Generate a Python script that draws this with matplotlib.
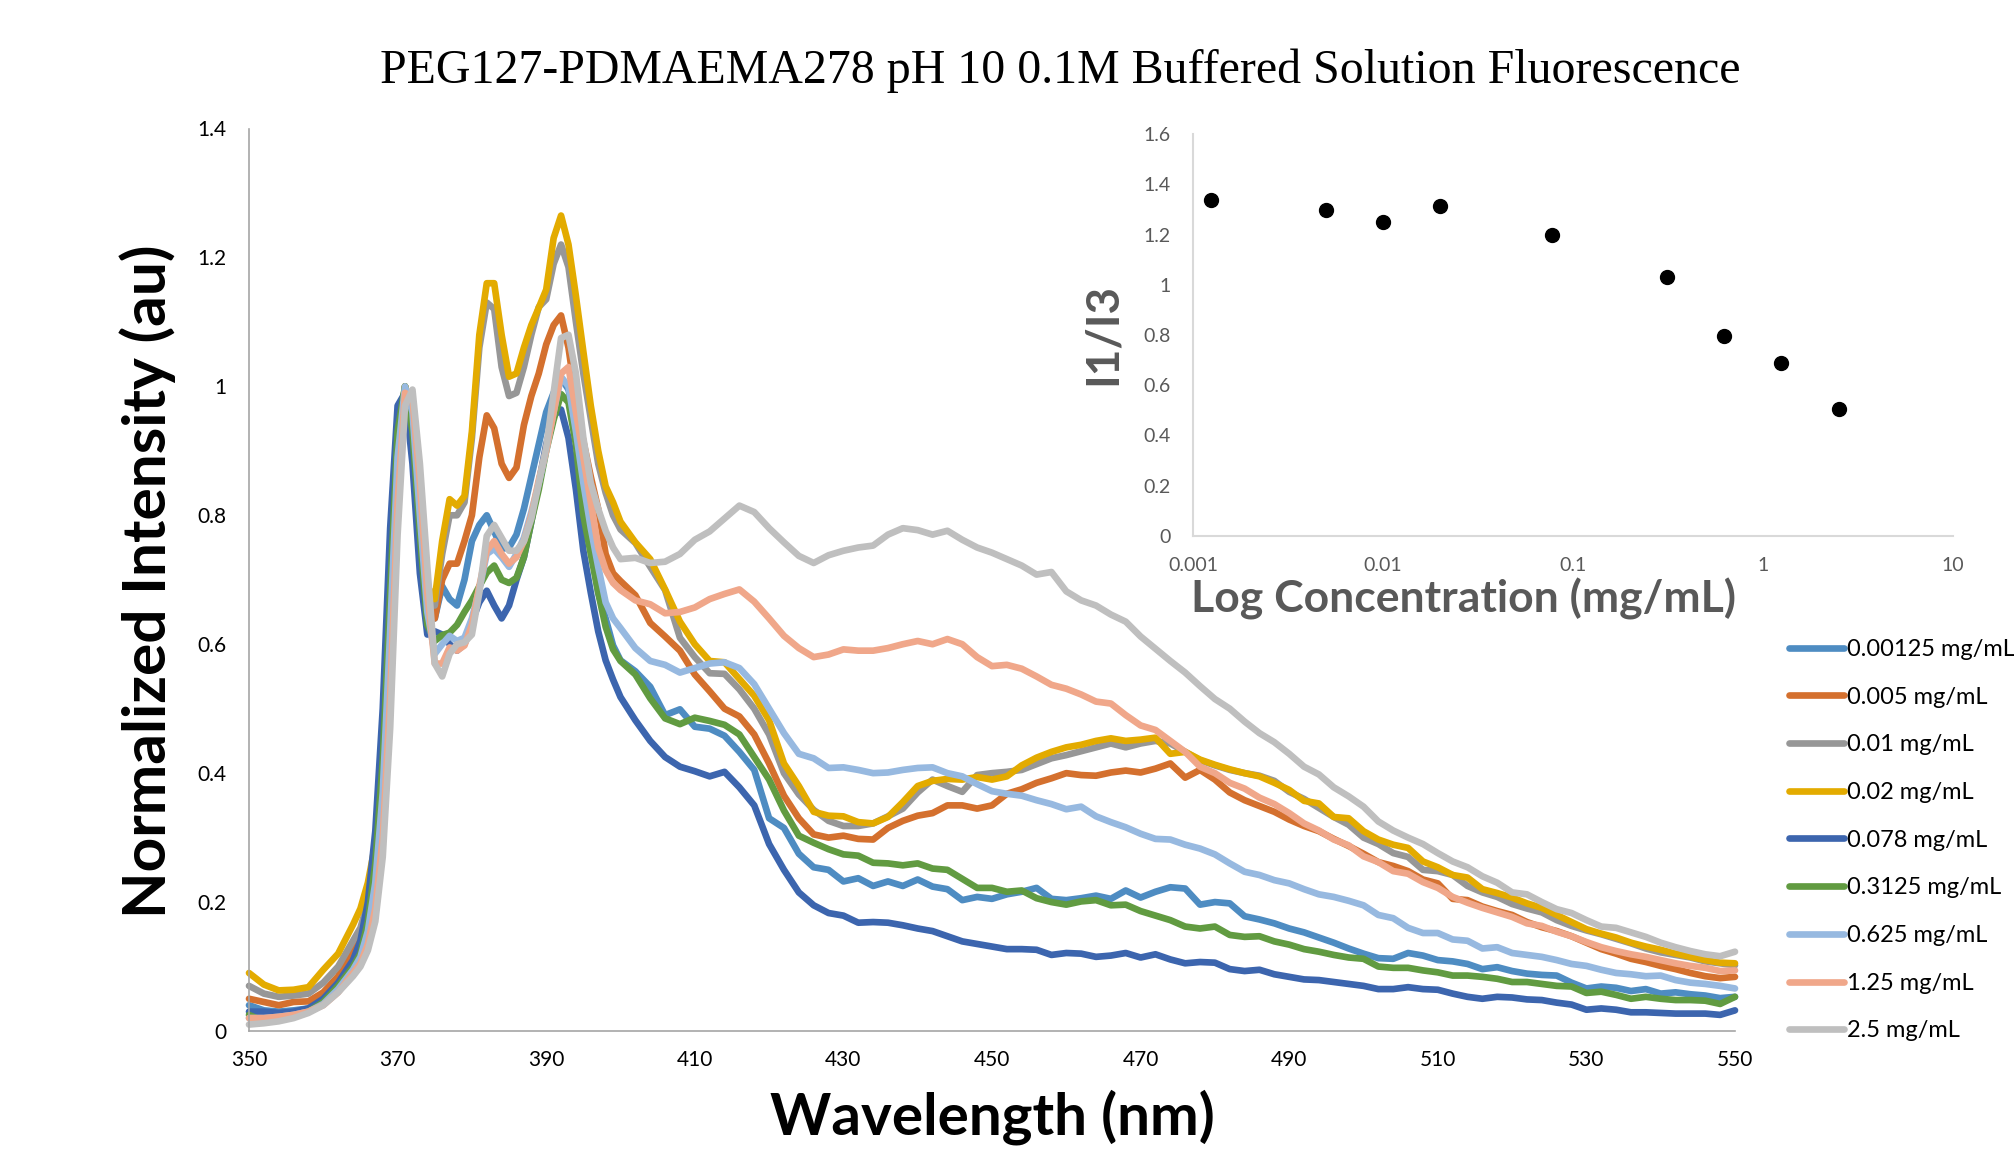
import numpy as np
import matplotlib.pyplot as plt
from matplotlib.ticker import FuncFormatter, FixedLocator

plt.rcParams['font.family'] = ['Lato', 'DejaVu Sans']

# wavelength grid the spectra were read on (nm)
wl = np.concatenate([np.arange(350, 365, 2), np.arange(365, 401, 1),
                     np.arange(402, 551, 2)])

# normalized intensity, one list per concentration (350-364 / 365-400 / 402-550)
i_00125 = [0.040, 0.032, 0.030, 0.032, 0.035, 0.050, 0.075, 0.110,
           0.135, 0.18, 0.26, 0.41, 0.66, 0.91, 1.00, 0.94, 0.79, 0.65, 0.64, 0.69,
           0.67, 0.66, 0.70, 0.76, 0.785, 0.80, 0.775, 0.748, 0.75, 0.77, 0.81,
           0.86, 0.91, 0.96, 0.99, 1.013, 0.995, 0.94, 0.84, 0.75, 0.68, 0.64,
           0.598, 0.575,
           0.558, 0.534, 0.490, 0.499, 0.472, 0.469, 0.458, 0.433, 0.405, 0.330,
           0.315, 0.275, 0.254, 0.250, 0.232, 0.237, 0.225, 0.232, 0.225, 0.235,
           0.224, 0.220, 0.203, 0.208, 0.205, 0.212, 0.216, 0.222, 0.205, 0.203,
           0.206, 0.210, 0.205, 0.218, 0.207, 0.216, 0.223, 0.221, 0.196, 0.200,
           0.198, 0.178, 0.173, 0.167, 0.159, 0.153, 0.145, 0.137, 0.128, 0.120,
           0.113, 0.112, 0.121, 0.117, 0.110, 0.108, 0.104, 0.096, 0.099, 0.093,
           0.089, 0.087, 0.086, 0.075, 0.066, 0.069, 0.067, 0.062, 0.065, 0.058,
           0.060, 0.057, 0.055, 0.051, 0.053]
i_005 = [0.050, 0.045, 0.040, 0.045, 0.046, 0.060, 0.085, 0.125,
         0.15, 0.19, 0.25, 0.38, 0.62, 0.88, 1.00, 0.95, 0.80, 0.66, 0.64, 0.70,
         0.725, 0.725, 0.76, 0.80, 0.89, 0.955, 0.935, 0.88, 0.858, 0.874, 0.94,
         0.985, 1.02, 1.065, 1.095, 1.11, 1.06, 0.98, 0.915, 0.86, 0.81, 0.74,
         0.71, 0.698,
         0.676, 0.633, 0.612, 0.590, 0.553, 0.527, 0.500, 0.488, 0.460, 0.415,
         0.365, 0.330, 0.305, 0.300, 0.303, 0.298, 0.297, 0.315, 0.326, 0.334,
         0.338, 0.350, 0.350, 0.345, 0.350, 0.368, 0.375, 0.385, 0.392, 0.400,
         0.397, 0.396, 0.401, 0.404, 0.401, 0.407, 0.415, 0.393, 0.405, 0.390,
         0.370, 0.358, 0.349, 0.340, 0.328, 0.318, 0.310, 0.298, 0.287, 0.275,
         0.262, 0.256, 0.248, 0.235, 0.229, 0.205, 0.203, 0.193, 0.186, 0.180,
         0.169, 0.161, 0.155, 0.147, 0.137, 0.127, 0.120, 0.112, 0.107, 0.101,
         0.096, 0.090, 0.085, 0.082, 0.084]
i_001 = [0.070, 0.058, 0.053, 0.055, 0.058, 0.075, 0.100, 0.140,
         0.16, 0.20, 0.27, 0.41, 0.65, 0.90, 1.00, 0.96, 0.83, 0.68, 0.66, 0.74,
         0.80, 0.80, 0.82, 0.92, 1.06, 1.13, 1.12, 1.03, 0.985, 0.99, 1.03,
         1.08, 1.123, 1.135, 1.19, 1.22, 1.185, 1.10, 1.02, 0.95, 0.88, 0.835,
         0.80, 0.778,
         0.757, 0.720, 0.684, 0.610, 0.580, 0.555, 0.554, 0.530, 0.500, 0.460,
         0.400, 0.367, 0.343, 0.326, 0.318, 0.318, 0.322, 0.333, 0.345, 0.370,
         0.390, 0.380, 0.371, 0.397, 0.400, 0.402, 0.405, 0.414, 0.423, 0.428,
         0.434, 0.440, 0.446, 0.440, 0.446, 0.450, 0.446, 0.433, 0.420, 0.412,
         0.405, 0.400, 0.396, 0.388, 0.371, 0.360, 0.346, 0.332, 0.320, 0.300,
         0.290, 0.276, 0.270, 0.250, 0.248, 0.242, 0.225, 0.215, 0.208, 0.197,
         0.190, 0.184, 0.172, 0.163, 0.156, 0.150, 0.143, 0.136, 0.128, 0.122,
         0.118, 0.114, 0.108, 0.105, 0.102]
i_002 = [0.090, 0.072, 0.063, 0.064, 0.068, 0.095, 0.120, 0.165,
         0.19, 0.23, 0.29, 0.44, 0.68, 0.92, 1.00, 0.96, 0.84, 0.69, 0.67, 0.76,
         0.825, 0.815, 0.83, 0.93, 1.08, 1.16, 1.16, 1.08, 1.015, 1.02, 1.06,
         1.095, 1.122, 1.15, 1.23, 1.265, 1.22, 1.14, 1.054, 0.97, 0.90, 0.845,
         0.82, 0.79,
         0.758, 0.732, 0.685, 0.635, 0.600, 0.574, 0.572, 0.546, 0.520, 0.482,
         0.415, 0.380, 0.340, 0.334, 0.333, 0.324, 0.322, 0.332, 0.355, 0.380,
         0.388, 0.391, 0.390, 0.394, 0.390, 0.395, 0.412, 0.424, 0.433, 0.440,
         0.444, 0.450, 0.454, 0.450, 0.452, 0.455, 0.430, 0.433, 0.421, 0.413,
         0.406, 0.400, 0.395, 0.385, 0.374, 0.357, 0.353, 0.332, 0.330, 0.310,
         0.297, 0.289, 0.284, 0.263, 0.254, 0.242, 0.238, 0.220, 0.214, 0.207,
         0.198, 0.191, 0.180, 0.169, 0.158, 0.151, 0.145, 0.137, 0.131, 0.126,
         0.120, 0.115, 0.110, 0.106, 0.105]
i_0078 = [0.030, 0.030, 0.028, 0.030, 0.035, 0.050, 0.075, 0.110,
          0.14, 0.20, 0.31, 0.50, 0.78, 0.97, 0.99, 0.88, 0.71, 0.615, 0.62, 0.615,
          0.60, 0.59, 0.60, 0.635, 0.665, 0.683, 0.66, 0.64, 0.66, 0.70, 0.735,
          0.79, 0.85, 0.91, 0.955, 0.964, 0.92, 0.84, 0.745, 0.68, 0.62, 0.575,
          0.545, 0.518,
          0.482, 0.450, 0.425, 0.410, 0.403, 0.395, 0.402, 0.378, 0.350, 0.290,
          0.250, 0.215, 0.195, 0.183, 0.179, 0.168, 0.169, 0.168, 0.164, 0.159,
          0.155, 0.147, 0.139, 0.135, 0.131, 0.127, 0.127, 0.126, 0.118, 0.121,
          0.120, 0.115, 0.117, 0.121, 0.114, 0.119, 0.111, 0.105, 0.107, 0.106,
          0.096, 0.093, 0.095, 0.088, 0.084, 0.080, 0.079, 0.076, 0.073, 0.070,
          0.065, 0.065, 0.068, 0.065, 0.064, 0.058, 0.053, 0.050, 0.053, 0.052,
          0.049, 0.048, 0.044, 0.041, 0.033, 0.035, 0.033, 0.029, 0.029, 0.028,
          0.027, 0.027, 0.027, 0.025, 0.032]
i_03125 = [0.025, 0.015, 0.020, 0.022, 0.030, 0.045, 0.070, 0.100,
           0.12, 0.17, 0.26, 0.42, 0.68, 0.93, 1.00, 0.93, 0.77, 0.63, 0.605, 0.614,
           0.618, 0.63, 0.65, 0.668, 0.69, 0.711, 0.722, 0.70, 0.695, 0.703, 0.735,
           0.79, 0.84, 0.90, 0.948, 0.988, 0.975, 0.91, 0.80, 0.74, 0.68, 0.627,
           0.592, 0.574,
           0.553, 0.516, 0.485, 0.476, 0.486, 0.481, 0.475, 0.460, 0.425, 0.390,
           0.342, 0.303, 0.292, 0.282, 0.274, 0.272, 0.261, 0.260, 0.257, 0.260,
           0.252, 0.250, 0.236, 0.222, 0.222, 0.216, 0.218, 0.206, 0.200, 0.196,
           0.201, 0.203, 0.195, 0.196, 0.186, 0.179, 0.172, 0.162, 0.159, 0.162,
           0.149, 0.146, 0.147, 0.139, 0.134, 0.127, 0.123, 0.118, 0.114, 0.112,
           0.100, 0.098, 0.098, 0.094, 0.091, 0.086, 0.086, 0.084, 0.081, 0.076,
           0.076, 0.073, 0.070, 0.069, 0.059, 0.061, 0.056, 0.050, 0.053, 0.050,
           0.048, 0.048, 0.047, 0.042, 0.053]
i_0625 = [0.020, 0.020, 0.022, 0.025, 0.030, 0.042, 0.065, 0.095,
          0.115, 0.155, 0.23, 0.37, 0.62, 0.89, 1.00, 0.96, 0.80, 0.65, 0.585, 0.60,
          0.613, 0.605, 0.61, 0.64, 0.685, 0.74, 0.748, 0.735, 0.72, 0.74, 0.765,
          0.805, 0.85, 0.90, 0.96, 1.015, 1.00, 0.93, 0.85, 0.78, 0.72, 0.665,
          0.64, 0.625,
          0.594, 0.574, 0.568, 0.556, 0.563, 0.570, 0.572, 0.563, 0.538, 0.500,
          0.462, 0.430, 0.423, 0.408, 0.409, 0.405, 0.400, 0.401, 0.405, 0.408,
          0.409, 0.400, 0.395, 0.383, 0.372, 0.368, 0.365, 0.358, 0.352, 0.344,
          0.348, 0.333, 0.324, 0.316, 0.306, 0.298, 0.297, 0.289, 0.283, 0.274,
          0.260, 0.247, 0.242, 0.234, 0.229, 0.220, 0.212, 0.208, 0.202, 0.195,
          0.180, 0.175, 0.160, 0.152, 0.152, 0.142, 0.140, 0.128, 0.130, 0.121,
          0.118, 0.115, 0.110, 0.104, 0.101, 0.095, 0.090, 0.088, 0.085, 0.086,
          0.079, 0.075, 0.073, 0.070, 0.066]
i_125 = [0.020, 0.020, 0.022, 0.025, 0.030, 0.040, 0.060, 0.090,
         0.105, 0.135, 0.19, 0.30, 0.52, 0.82, 0.99, 0.98, 0.85, 0.68, 0.57, 0.57,
         0.595, 0.59, 0.598, 0.63, 0.69, 0.745, 0.76, 0.74, 0.725, 0.735, 0.76,
         0.80, 0.855, 0.90, 0.96, 1.02, 1.03, 0.96, 0.89, 0.82, 0.75, 0.715,
         0.695, 0.684,
         0.668, 0.662, 0.648, 0.650, 0.657, 0.670, 0.678, 0.685, 0.666, 0.640,
         0.613, 0.594, 0.580, 0.584, 0.592, 0.590, 0.590, 0.594, 0.600, 0.605,
         0.600, 0.608, 0.600, 0.580, 0.566, 0.568, 0.562, 0.550, 0.537, 0.531,
         0.522, 0.511, 0.508, 0.490, 0.474, 0.467, 0.450, 0.433, 0.410, 0.400,
         0.385, 0.376, 0.362, 0.352, 0.338, 0.322, 0.311, 0.297, 0.288, 0.271,
         0.262, 0.248, 0.244, 0.231, 0.222, 0.208, 0.199, 0.191, 0.184, 0.177,
         0.167, 0.163, 0.154, 0.147, 0.138, 0.130, 0.124, 0.119, 0.115, 0.110,
         0.105, 0.101, 0.098, 0.093, 0.094]
i_25 = [0.010, 0.012, 0.015, 0.020, 0.028, 0.040, 0.060, 0.085,
        0.10, 0.125, 0.17, 0.27, 0.47, 0.77, 0.97, 0.995, 0.88, 0.72, 0.57, 0.55,
        0.585, 0.60, 0.603, 0.615, 0.68, 0.768, 0.785, 0.765, 0.745, 0.745, 0.76,
        0.795, 0.85, 0.905, 0.99, 1.075, 1.08, 1.02, 0.92, 0.85, 0.81, 0.776,
        0.75, 0.732,
        0.734, 0.726, 0.728, 0.740, 0.762, 0.775, 0.795, 0.815, 0.805, 0.780,
        0.758, 0.737, 0.726, 0.738, 0.745, 0.750, 0.753, 0.770, 0.780, 0.777,
        0.770, 0.776, 0.762, 0.750, 0.742, 0.732, 0.722, 0.708, 0.712, 0.682,
        0.668, 0.660, 0.646, 0.635, 0.612, 0.593, 0.574, 0.556, 0.535, 0.515,
        0.500, 0.480, 0.462, 0.448, 0.430, 0.410, 0.398, 0.378, 0.364, 0.348,
        0.325, 0.311, 0.300, 0.290, 0.276, 0.263, 0.254, 0.240, 0.230, 0.215,
        0.212, 0.200, 0.189, 0.183, 0.172, 0.162, 0.160, 0.153, 0.146, 0.137,
        0.130, 0.124, 0.119, 0.116, 0.123]

spectra = [i_00125, i_005, i_001, i_002, i_0078, i_03125, i_0625, i_125, i_25]
labels = ['0.00125 mg/mL', '0.005 mg/mL', '0.01 mg/mL', '0.02 mg/mL',
          '0.078 mg/mL', '0.3125 mg/mL', '0.625 mg/mL', '1.25 mg/mL',
          '2.5 mg/mL']
colors = ['#4E8CC2', '#D4702E', '#979797', '#E3AB00', '#3C65AE',
          '#619B41', '#97B9E0', '#F0A78A', '#BFBFBF']

# inset: I1/I3 ratio vs concentration
conc = [0.00125, 0.005, 0.01, 0.02, 0.078, 0.3125, 0.625, 1.25, 2.5]
ratio = [1.337, 1.297, 1.248, 1.314, 1.198, 1.032, 0.796, 0.688, 0.505]

W, H = 2015, 1153
fig = plt.figure(figsize=(W / 100, H / 100), dpi=100)

# %% main spectra
ax = fig.add_axes([249 / W, 1 - 1031 / H, (1735 - 249) / W, (1031 - 128.5) / H])
lines = []
for y, lab, c in zip(spectra, labels, colors):
    l, = ax.plot(wl, y, color=c, lw=4.8, label=lab, clip_on=False,
                 solid_capstyle='round', solid_joinstyle='round')
    lines.append(l)
ax.set_xlim(350, 550)
ax.set_ylim(0, 1.4)
ax.xaxis.set_major_locator(FixedLocator(np.arange(350, 551, 20)))
ax.yaxis.set_major_locator(FixedLocator(np.arange(0, 1.41, 0.2)))
ax.yaxis.set_major_formatter(FuncFormatter(lambda v, p: '{:g}'.format(round(v, 1))))
for s in ['top', 'right']:
    ax.spines[s].set_visible(False)
for s in ['left', 'bottom']:
    ax.spines[s].set_color('#A6A6A6')
    ax.spines[s].set_linewidth(1.2)
ax.tick_params(axis='both', length=0, labelsize=15, colors='#000000')
ax.tick_params(axis='y', pad=16)
ax.tick_params(axis='x', pad=14)

fig.text(1060 / W, 1 - 71 / H,
         'PEG127-PDMAEMA278 pH 10 0.1M Buffered Solution Fluorescence',
         ha='center', va='center', fontsize=34.5, family='Liberation Serif')
fig.text(148 / W, 1 - 581 / H, 'Normalized Intensity (au)', rotation=90,
         ha='center', va='center', fontsize=43.5, fontweight='bold')
fig.text(992 / W, 1 - 1117 / H, 'Wavelength (nm)', ha='center', va='center',
         fontsize=42, fontweight='bold')

fig.legend(handles=lines, loc='upper left', frameon=False,
           bbox_to_anchor=(1789 / W, 1 - 639 / H), borderaxespad=0,
           borderpad=0, fontsize=17, handlelength=2.35, handletextpad=0.12,
           labelspacing=1.13)

# %% inset
ax2 = fig.add_axes([1193 / W, 1 - 536 / H, (1953 - 1193) / W, (536 - 134) / H])
ax2.set_facecolor('none')
ax2.plot(conc, ratio, 'o', color='black', ms=10)
ax2.set_xscale('log')
ax2.set_xlim(0.001, 10)
ax2.set_ylim(0, 1.6)
ax2.xaxis.set_major_locator(FixedLocator([0.001, 0.01, 0.1, 1, 10]))
ax2.xaxis.set_minor_locator(FixedLocator([]))
ax2.xaxis.set_major_formatter(FuncFormatter(lambda v, p: '{:g}'.format(v)))
ax2.yaxis.set_major_locator(FixedLocator(np.arange(0, 1.61, 0.2)))
ax2.yaxis.set_major_formatter(FuncFormatter(lambda v, p: '{:g}'.format(round(v, 1))))
for s in ['top', 'right']:
    ax2.spines[s].set_visible(False)
for s in ['left', 'bottom']:
    ax2.spines[s].set_color('#D9D9D9')
    ax2.spines[s].set_linewidth(1.5)
ax2.tick_params(axis='both', which='both', length=0, labelsize=14,
                colors='#595959')
ax2.tick_params(axis='y', pad=16)
ax2.tick_params(axis='x', pad=15)
fig.text(1464 / W, 1 - 599 / H, 'Log Concentration (mg/mL)', ha='center',
         va='center', fontsize=32, fontweight='bold', color='#595959')
fig.text(1103 / W, 1 - 334 / H, 'I1/I3', rotation=90, ha='center',
         va='center', fontsize=33, fontweight='bold', color='#595959')

fig.savefig('out.png', dpi=100)
